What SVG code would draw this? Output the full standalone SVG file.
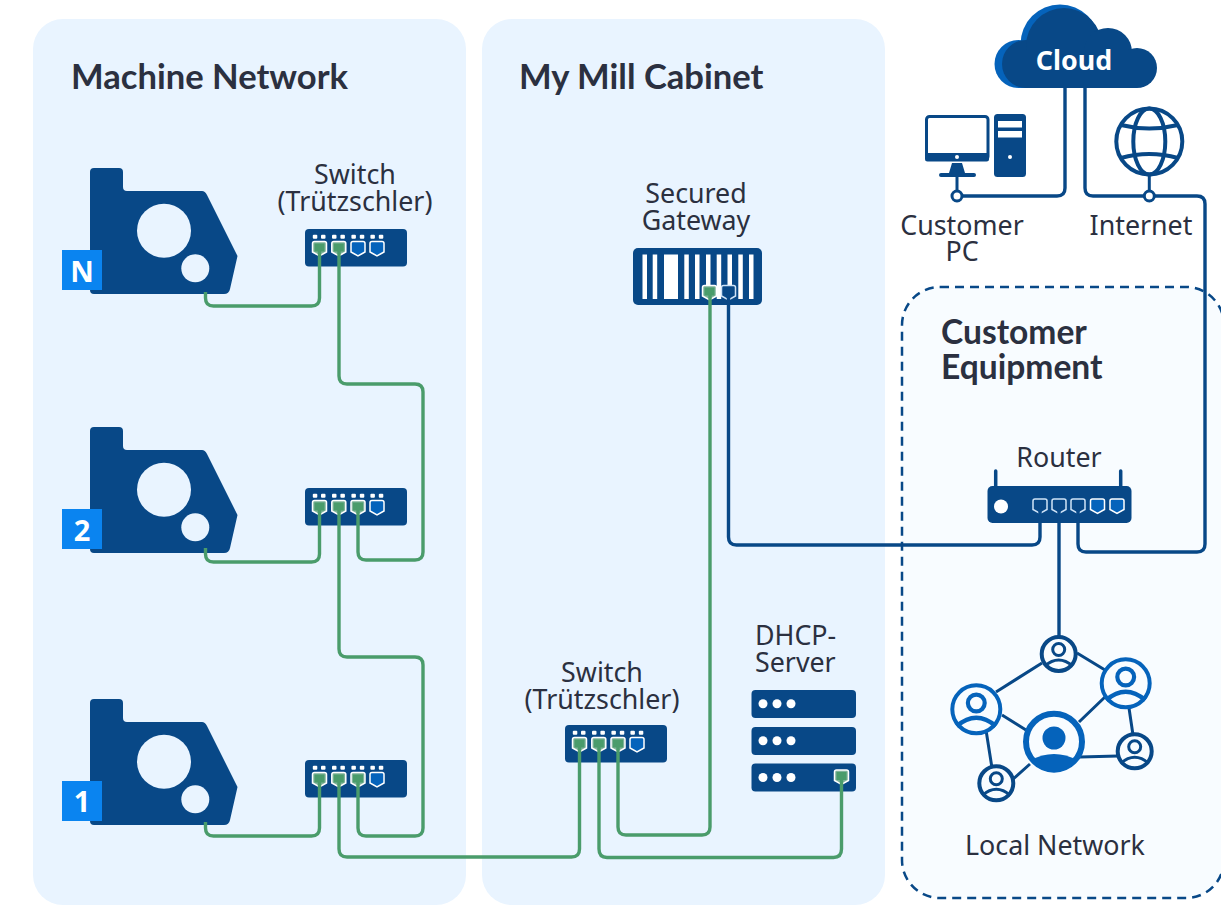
<svg xmlns="http://www.w3.org/2000/svg" width="1221" height="905" viewBox="0 0 1221 905">
<style>
text{font-family:"Noto Sans","Open Sans",sans-serif;fill:#2b3040;font-size:26.800px}
.m{text-anchor:middle}
.h{font-family:Lato,"Noto Sans",sans-serif;font-weight:700;font-size:34.600px}
.h2{font-size:33.600px}
.d{fill:#084887}
.w{fill:#fff}
.panel{fill:#e9f4ff}
.g,.b,.e{fill:none;stroke-width:3.400;stroke-linejoin:round}
.g{stroke:#4a9c6b}
.b{stroke:#084887}
.e{stroke:#084887;stroke-width:3}
.ring{fill:#fff;stroke:#084887;stroke-width:3}
.nd{fill:#f8fcff;stroke:#084887;stroke-width:4}
.nl{fill:#f8fcff;stroke:#0563bb;stroke-width:4}
.badge{fill:#fff;font-weight:700;font-size:29px}
</style>
<defs>
<path id="shield" d="M-5 0H5Q7 0 7 2V10.500L0 14.500L-7 10.500V2Q-7 0 -5 0Z"/>
<use id="port" href="#shield" fill="#0563bb" stroke="#fff" stroke-width="1.500"/>
<g id="portg"><use href="#shield" fill="#7fb39a" stroke="#fff" stroke-width="1.500"/><rect x="-5" y="2" width="10" height="8" fill="#4a9c6b"/></g>
<use id="portb" href="#shield" fill="#084887" stroke="#cfe3f7" stroke-width="1.500"/>
<g id="leds" class="w">
<rect x="7.800" y="5.700" width="4.500" height="4" rx="1"/><rect x="16" y="5.700" width="4.500" height="4" rx="1"/>
<rect x="27" y="5.700" width="4.500" height="4" rx="1"/><rect x="35.400" y="5.700" width="4.500" height="4" rx="1"/>
<rect x="46.400" y="5.700" width="4.500" height="4" rx="1"/><rect x="54.800" y="5.700" width="4.500" height="4" rx="1"/>
<rect x="65.400" y="5.700" width="4.500" height="4" rx="1"/><rect x="73.800" y="5.700" width="4.500" height="4" rx="1"/>
</g>
<g id="machine">
<path class="d" d="M94 168H119Q123 168 123 172V187Q123 191 127 191H202Q205 191 207 195L237.500 256L230 289Q229 294 224 294H94Q90 294 90 290V172Q90 168 94 168Z"/>
<circle class="panel" cx="164" cy="230.700" r="27"/>
<circle class="panel" cx="195.300" cy="268.300" r="14"/>
</g>
<g id="person"><circle r="6" cy="-4.500" fill="none" stroke="currentColor" stroke-width="3"/><path d="M-14 12Q0 0 14 12" fill="none" stroke="currentColor" stroke-width="3"/></g>
</defs>

<rect x="33" y="19" width="433" height="886" rx="30" class="panel"/>
<rect x="482" y="19" width="403" height="886" rx="30" class="panel"/>
<rect x="902" y="287" width="322" height="611" rx="38" fill="#f8fcff" stroke="#084887" stroke-width="2.500" stroke-dasharray="9 6"/>
<text class="h" x="71" y="88.500">Machine Network</text>
<text class="h" x="519" y="88.500">My Mill Cabinet</text>
<text class="h h2" x="941" y="344">Customer</text>
<text class="h h2" x="941" y="379">Equipment</text>

<g id="machine-n"><use href="#machine"/><rect x="62" y="250" width="40" height="40" fill="#0a84f0"/><text x="82" y="282" class="m badge">N</text></g>
<g id="machine-2"><use href="#machine" y="259"/><rect x="62" y="509" width="40" height="40" fill="#0a84f0"/><text x="82" y="541" class="m badge">2</text></g>
<g id="machine-1"><use href="#machine" y="531"/><rect x="62" y="781" width="40" height="40" fill="#0a84f0"/><text x="82" y="812" class="m badge">1</text></g>

<g id="switch-n" transform="translate(305 229)">
<rect width="102" height="37.500" rx="4" class="d"/><use href="#leds"/>
<use href="#portg" x="14.500" y="12.500"/><use href="#portg" x="33.800" y="12.500"/><use href="#port" x="53" y="12.500"/><use href="#port" x="72" y="12.500"/>
<text class="m" x="50" y="-45">Switch</text><text class="m" x="50" y="-18">(Trützschler)</text>
</g>
<g id="switch-2" transform="translate(305 488)">
<rect width="102" height="37.500" rx="4" class="d"/><use href="#leds"/>
<use href="#portg" x="14.500" y="12.500"/><use href="#portg" x="33.800" y="12.500"/><use href="#portg" x="53" y="12.500"/><use href="#port" x="72" y="12.500"/>
</g>
<g id="switch-1" transform="translate(305 760)">
<rect width="102" height="37.500" rx="4" class="d"/><use href="#leds"/>
<use href="#portg" x="14.500" y="12.500"/><use href="#portg" x="33.800" y="12.500"/><use href="#portg" x="53" y="12.500"/><use href="#port" x="72" y="12.500"/>
</g>
<g id="switch-cabinet" transform="translate(565 725)">
<rect width="102" height="37.500" rx="4" class="d"/><use href="#leds"/>
<use href="#portg" x="14.500" y="12.500"/><use href="#portg" x="33.800" y="12.500"/><use href="#portg" x="53" y="12.500"/><use href="#port" x="72" y="12.500"/>
<text class="m" x="37" y="-43">Switch</text><text class="m" x="37" y="-16">(Trützschler)</text>
</g>

<g id="gateway">
<rect x="633" y="248" width="129" height="57" rx="5" class="d"/>
<g class="w">
<rect x="642.500" y="254.500" width="4.500" height="44.500"/><rect x="652.700" y="254.500" width="4.500" height="44.500"/><rect x="664" y="254.500" width="14" height="44.500"/><rect x="684.300" y="254.500" width="4.500" height="44.500"/><rect x="695" y="254.500" width="4.500" height="44.500"/><rect x="706" y="254.500" width="4.500" height="44.500"/><rect x="716.700" y="254.500" width="4.500" height="44.500"/><rect x="727.500" y="254.500" width="4.500" height="44.500"/><rect x="738.300" y="254.500" width="4.500" height="44.500"/><rect x="749" y="254.500" width="4.500" height="44.500"/>
</g>
<use href="#portg" x="709.500" y="285.500"/><use href="#portb" x="728.500" y="285.500"/>
<text class="m" x="696" y="203">Secured</text><text class="m" x="696" y="230">Gateway</text>
</g>

<g id="dhcp">
<text x="755" y="645">DHCP-</text><text x="755" y="672">Server</text>
<rect x="751.500" y="690" width="104.500" height="28" rx="4" class="d"/><rect x="751.500" y="727" width="104.500" height="28" rx="4" class="d"/><rect x="751.500" y="763.500" width="104.500" height="28" rx="4" class="d"/>
<g class="w">
<circle cx="763" cy="703.700" r="4.500"/><circle cx="777" cy="703.700" r="4.500"/><circle cx="791" cy="703.700" r="4.500"/>
<circle cx="763" cy="740.700" r="4.500"/><circle cx="777" cy="740.700" r="4.500"/><circle cx="791" cy="740.700" r="4.500"/>
<circle cx="763" cy="777.500" r="4.500"/><circle cx="777" cy="777.500" r="4.500"/><circle cx="791" cy="777.500" r="4.500"/>
</g>
<use href="#portg" x="841.500" y="770"/>
</g>

<g id="router">
<path d="M995.700 486V471M1120.700 486V471" stroke="#084887" stroke-width="3.500" stroke-linecap="round"/>
<rect x="987.500" y="486" width="144" height="37" rx="5" class="d"/>
<circle cx="1001" cy="506.500" r="7" class="w"/>
<use href="#portb" x="1040" y="499"/><use href="#portb" x="1059" y="499"/><use href="#portb" x="1078" y="499"/><use href="#port" x="1097.500" y="499"/><use href="#port" x="1117" y="499"/>
<text class="m" x="1059" y="467">Router</text>
</g>

<g id="cloud">
<g fill="#0563bb"><circle cx="1018.500" cy="64" r="24"/><circle cx="1060" cy="44" r="39.500"/><rect x="1019" y="60" width="90" height="28"/></g>
<g class="d"><circle cx="1026" cy="64" r="24"/><circle cx="1064" cy="46" r="38"/><circle cx="1108" cy="52" r="24"/><circle cx="1137" cy="68" r="20"/><rect x="1026" y="50" width="111" height="38"/></g>
<text x="1074" y="70" class="m" style="fill:#fff;font-weight:700">Cloud</text>
</g>

<g id="customer-pc">
<rect x="926.500" y="116.500" width="61.500" height="43" rx="3" fill="#fff" stroke="#084887" stroke-width="3"/>
<rect x="925" y="153" width="64" height="8.500" rx="2.500" class="d"/>
<circle cx="957" cy="157" r="2" class="w"/>
<path class="d" d="M952 163H962L965 173H974Q976 173 976 175T974 177H941Q939 177 939 175T941 173H949Z"/>
<path d="M957 175V193" stroke="#084887" stroke-width="3"/>
<rect x="994" y="114" width="32" height="63" rx="3.500" class="d"/>
<rect x="998" y="121" width="24" height="6.500" class="w"/><rect x="998" y="131" width="24" height="6.500" class="w"/>
<circle cx="1010" cy="157" r="2" class="w"/>
<text class="m" x="962" y="235">Customer</text><text class="m" x="962" y="261">PC</text>
</g>

<g id="internet">
<g fill="none" stroke="#084887" stroke-width="4">
<circle cx="1149.300" cy="141.500" r="33"/>
<ellipse cx="1149.300" cy="141.500" rx="16" ry="33"/>
<path d="M1121 125Q1149 132 1178 125M1121 158Q1149 150 1178 158"/>
</g>
<path d="M1149.300 175V192" stroke="#084887" stroke-width="3"/>
<text class="m" x="1141" y="235">Internet</text>
</g>

<g id="local-network">
<path class="e" d="M1042 663L996 692M1077 653L1105 670M1002 715L1026 730M986 730L992 768M1030 764L1012 780M1079 722L1105 697M1080 757L1118 756M1129 708L1133 735"/>
<g style="color:#084887"><circle cx="1058.700" cy="654" r="17" class="nd"/><use href="#person" x="1058.700" y="654"/></g>
<g style="color:#0563bb"><circle cx="1125.700" cy="683.300" r="24" class="nl"/><use href="#person" transform="translate(1125.700 683.300) scale(1.400)"/></g>
<g style="color:#0563bb"><circle cx="976.300" cy="709.300" r="24" class="nl"/><use href="#person" transform="translate(976.300 709.300) scale(1.400)"/></g>
<g style="color:#084887"><circle cx="1134.700" cy="751.300" r="17" class="nd"/><use href="#person" x="1134.700" y="751.300"/></g>
<g style="color:#084887"><circle cx="996.300" cy="783.300" r="17" class="nd"/><use href="#person" x="996.300" y="783.300"/></g>
<g><circle cx="1054" cy="741.700" r="28" fill="#f8fcff" stroke="#0563bb" stroke-width="6"/><circle cx="1054" cy="738" r="11.500" fill="#0563bb"/><path d="M1031 760Q1042 754 1054 754Q1066 754 1077 760A28 28 0 0 1 1031 760Z" fill="#0563bb"/></g>
<text class="m" x="1055" y="855">Local Network</text>
</g>

<g id="connectors">
<g class="g">
<path d="M205.500 292V298Q205.500 306 213.500 306H311.500Q319.500 306 319.500 298V245"/>
<path d="M339 245V376Q339 384 347 384H415Q423 384 423 392V552Q423 560 415 560H366Q358 560 358 552V504"/>
<path d="M319.500 504V554Q319.500 562 311.500 562H213.500Q205.500 562 205.500 554V548"/>
<path d="M339 504V649Q339 657 347 657H415Q423 657 423 665V828Q423 836 415 836H366Q358 836 358 828V776"/>
<path d="M319.500 776V828Q319.500 836 311.500 836H213.500Q205.500 836 205.500 828V822"/>
<path d="M339 776V849Q339 857 347 857H571.500Q579.500 857 579.500 849V741"/>
<path d="M599 741V849Q599 857.500 607 857.500H833.500Q841.500 857.500 841.500 849V776"/>
<path d="M618 741V827Q618 835 626 835H702Q710 835 710 827V292"/>
</g>
<g class="b">
<path d="M728.500 293V537Q728.500 545 736.500 545H1032Q1040 545 1040 537V505"/>
<path d="M1059 505V636"/>
<path d="M1078 505V544Q1078 552 1086 552H1197Q1205 552 1205 544V204Q1205 196 1197 196H1093Q1085 196 1085 188V88"/>
<path d="M1065 88V188Q1065 196 1057 196H957"/>
</g>
</g>
<g id="junctions">
<circle cx="957" cy="196" r="5" class="ring"/>
<circle cx="1149.300" cy="196" r="5" class="ring"/>
</g>
</svg>
